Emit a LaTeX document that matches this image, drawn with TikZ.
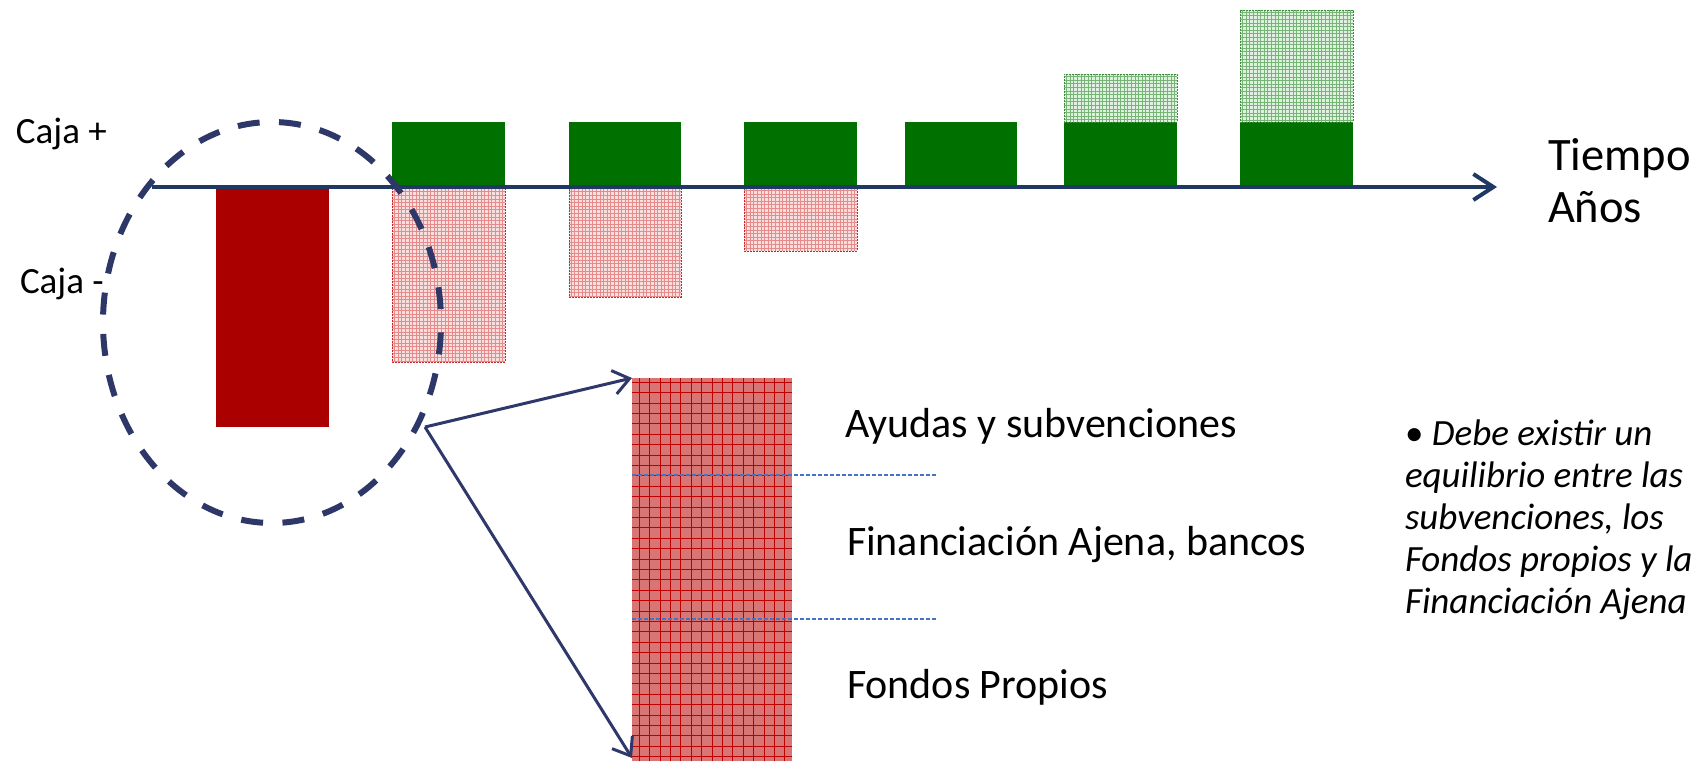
\documentclass[tikz,border=0pt]{standalone}
\usepackage{fontspec}
\setmainfont{Carlito}
\usetikzlibrary{arrows.meta}
\definecolor{axisnavy}{RGB}{31,56,100}
\definecolor{circnavy}{RGB}{46,56,104}
\definecolor{arrnavy}{RGB}{47,56,106}
\definecolor{gsolid}{RGB}{0,112,0}
\definecolor{rsolid}{RGB}{170,0,0}
\definecolor{pinkfill}{RGB}{250,222,222}
\definecolor{pinkgrid}{RGB}{228,140,140}
\definecolor{pinkedge}{RGB}{200,40,40}
\definecolor{greenfill}{RGB}{222,240,222}
\definecolor{greengrid}{RGB}{120,180,120}
\definecolor{greenedge}{RGB}{60,140,60}
\definecolor{colfill}{RGB}{216,118,118}
\definecolor{colgrid}{RGB}{190,0,0}
\definecolor{sepblue}{RGB}{68,114,196}
\tikzset{
  bar/.style={rectangle, inner sep=0pt, outer sep=0pt, anchor=north west},
  posbar/.style={bar, fill=gsolid},
  negbar/.style={bar, fill=rsolid},
  pinkbar/.style={bar, fill=pinkfill, draw=pinkedge, line width=0.8pt, dash pattern=on 2pt off 1pt,
    path picture={\draw[pinkgrid, line width=0.6pt, solid, step=3.6pt] (path picture bounding box.south west) grid (path picture bounding box.north east);}},
  greenbar/.style={bar, fill=greenfill, draw=greenedge, line width=0.8pt, dash pattern=on 2pt off 1pt,
    path picture={\draw[greengrid, line width=0.6pt, solid, step=3.6pt] (path picture bounding box.south west) grid (path picture bounding box.north east);}},
  colbox/.style={bar, fill=colfill,
    path picture={\draw[colgrid, line width=1pt, step=10.4pt] (path picture bounding box.south west) grid (path picture bounding box.north east);}},
  lbl/.style={inner sep=0pt, outer sep=0pt, anchor=base west, text=black},
  sepline/.style={sepblue, line width=1.4pt, dash pattern=on 4pt off 2pt},
  zoomarrow/.style={arrnavy, line width=3pt, -{Straight Barb[length=16pt,width=24pt]}},
}
\begin{document}
\begin{tikzpicture}[x=1pt,y=-1pt]
\useasboundingbox (0,0) rectangle (1708,761);
% positive (green) bars
\node[posbar, minimum width=113pt, minimum height=65pt] (g1) at (392,122) {};
\node[posbar, minimum width=112pt, minimum height=65pt] (g2) at (569,122) {};
\node[posbar, minimum width=113pt, minimum height=65pt] (g3) at (744,122) {};
\node[posbar, minimum width=112pt, minimum height=65pt] (g4) at (905,122) {};
\node[posbar, minimum width=113pt, minimum height=65pt] (g5) at (1064,122) {};
\node[posbar, minimum width=113pt, minimum height=65pt] (g6) at (1240,122) {};
% hatched green extensions
\node[greenbar, minimum width=113pt, minimum height=48pt] (h5) at (1064,74) {};
\node[greenbar, minimum width=113pt, minimum height=112pt] (h6) at (1240,10) {};
% negative bars
\node[negbar, minimum width=113pt, minimum height=240pt] (r0) at (216,187) {};
\node[pinkbar, minimum width=113pt, minimum height=175pt] (p1) at (392,187) {};
\node[pinkbar, minimum width=112pt, minimum height=110pt] (p2) at (569,187) {};
\node[pinkbar, minimum width=113pt, minimum height=64pt] (p3) at (744,187) {};
% time axis
\coordinate (ax0) at (152,187);
\coordinate (ax1) at (1497,187);
\draw[axisnavy, line width=4pt, -{Straight Barb[length=20pt,width=26pt]}] (ax0) -- (ax1);
% zoomed column
\node[colbox, minimum width=160pt, minimum height=383pt] (col) at (632,378) {};
\coordinate (s1a) at (632,475); \coordinate (s1b) at (937,475);
\coordinate (s2a) at (632,619); \coordinate (s2b) at (937,619);
\draw[sepline] (s1a) -- (s1b);
\draw[sepline] (s2a) -- (s2b);
% labels
\node[lbl, font=\fontsize{37}{44}\selectfont] (cp) at (16,143) {Caja +};
\node[lbl, font=\fontsize{37}{44}\selectfont] (cm) at (20,293) {Caja -};
\node[lbl, font=\fontsize{46.5}{54}\selectfont] (t1) at (1548,170) {Tiempo};
\node[lbl, font=\fontsize{46.5}{54}\selectfont] (t2) at (1548,222) {Años};
\node[lbl, font=\fontsize{42}{50}\selectfont] (l1) at (845,437) {Ayudas y subvenciones};
\node[lbl, font=\fontsize{42}{50}\selectfont] (l2) at (847,555) {Financiación Ajena, bancos};
\node[lbl, font=\fontsize{42}{50}\selectfont] (l3) at (847,698) {Fondos Propios};
\node[lbl, font=\fontsize{37}{42}\selectfont] (n1) at (1405,445) {• \textit{Debe existir un}};
\node[lbl, font=\fontsize{37}{42}\selectfont\itshape] (n2) at (1405,487) {equilibrio entre las};
\node[lbl, font=\fontsize{37}{42}\selectfont\itshape] (n3) at (1405,529) {subvenciones, los};
\node[lbl, font=\fontsize{37}{42}\selectfont\itshape] (n4) at (1405,571) {Fondos propios y la};
\node[lbl, font=\fontsize{37}{42}\selectfont\itshape] (n5) at (1405,613) {Financiación Ajena};
% dashed ellipse
\draw[circnavy, line width=6pt, dash pattern=on 22pt off 19.4pt, dash phase=31.5pt] (272,322.5) ellipse [x radius=169, y radius=200.5];
% zoom arrows
\coordinate (src) at (425,427);
\draw[zoomarrow] (src) -- (col.north west);
\draw[zoomarrow] (src) -- ([yshift=3pt]col.south west);
\end{tikzpicture}
\end{document}
